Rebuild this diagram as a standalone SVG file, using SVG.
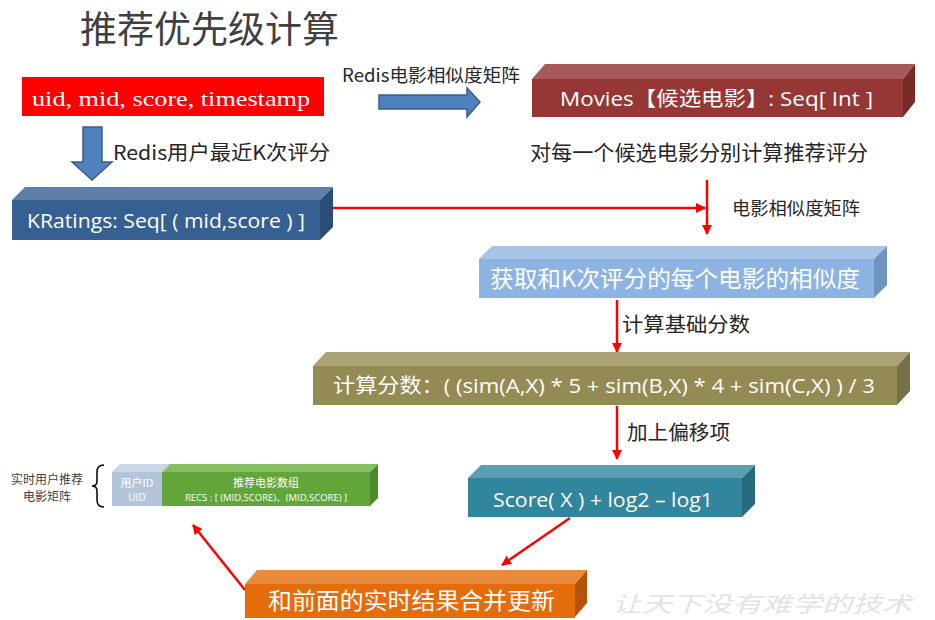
<svg xmlns="http://www.w3.org/2000/svg" width="935" height="620" viewBox="0 0 935 620">
<style>
  .cjk { font-family: "Noto Sans CJK SC", "Noto Sans", sans-serif; }
  .lat { font-family: "Open Sans", "Noto Sans CJK SC", sans-serif; }
  .dark { fill: #262626; }
  .white { fill: #ffffff; }
  .red { stroke: #ff0000; stroke-width: 2.5; fill: none; }
  .blockarrow { fill: #4f81bd; stroke: #385d8a; stroke-width: 1.5; }
</style>
<defs>
  <marker id="ah" viewBox="0 0 10 10" refX="9" refY="5" markerWidth="10" markerHeight="10" markerUnits="userSpaceOnUse" orient="auto">
    <path d="M0,0 L10,5 L0,10 Z" fill="#ff0000"/>
  </marker>
</defs>
<rect width="935" height="620" fill="#ffffff"/>

<text x="80" y="43" class="cjk" font-size="37" fill="#404040">推荐优先级计算</text>

<g id="input">
  <rect x="22" y="77" width="302" height="39" fill="#ff0000"/>
  <text x="32" y="106" font-family="Liberation Serif, serif" font-size="22" class="white" textLength="278" lengthAdjust="spacingAndGlyphs">uid, mid, score, timestamp</text>
</g>

<g id="movies">
  <polygon points="532,79 545,64 915,64 903,79" fill="#a85a58"/>
  <polygon points="903,79 915,64 915,102 903,117" fill="#772a28"/>
  <rect x="532" y="79" width="371" height="38" fill="#953735"/>
  <text x="560" y="106" class="lat white" font-size="20" textLength="313" lengthAdjust="spacingAndGlyphs">Movies【候选电影】: Seq[ Int ]</text>
</g>

<g id="kratings">
  <polygon points="12,200 25,187 333,187 320,200" fill="#5d80a9"/>
  <polygon points="320,200 333,187 333,227 320,240" fill="#2c4d75"/>
  <rect x="12" y="200" width="308" height="40" fill="#376092"/>
  <text x="27" y="228" class="lat white" font-size="20" textLength="278" lengthAdjust="spacingAndGlyphs">KRatings: Seq[ ( mid,score ) ]</text>
</g>

<g id="similarity">
  <polygon points="479,259 492,246 887,246 874,259" fill="#a7c3e8"/>
  <polygon points="874,259 887,246 887,285 874,298" fill="#7193bf"/>
  <rect x="479" y="259" width="395" height="39" fill="#8db3e2"/>
  <text x="490" y="287" class="cjk white" font-size="23" textLength="370" lengthAdjust="spacingAndGlyphs">获取和K次评分的每个电影的相似度</text>
</g>

<g id="base-score">
  <polygon points="313,366 326,352 910,352 897,366" fill="#aba278"/>
  <polygon points="897,366 910,352 910,391 897,405" fill="#797146"/>
  <rect x="313" y="366" width="584" height="39" fill="#948a54"/>
  <text x="333" y="393" class="lat white" font-size="20" textLength="542" lengthAdjust="spacingAndGlyphs">计算分数：( (sim(A,X) * 5 + sim(B,X) * 4 + sim(C,X) ) / 3</text>
</g>

<g id="offset-score">
  <polygon points="468,478 481,465 755,465 742,478" fill="#5b9eb0"/>
  <polygon points="742,478 755,465 755,504 742,517" fill="#266a7c"/>
  <rect x="468" y="478" width="274" height="39" fill="#31859c"/>
  <text x="493" y="507" class="lat white" font-size="20" textLength="220" lengthAdjust="spacingAndGlyphs">Score( X ) + log2 – log1</text>
</g>

<g id="merge">
  <polygon points="245,584 257,570 587,570 575,584" fill="#e98b3d"/>
  <polygon points="575,584 587,570 587,603 575,617" fill="#b4540a"/>
  <rect x="245" y="584" width="330" height="34" fill="#e46c0a"/>
  <text x="268" y="609" class="cjk white" font-size="23" textLength="287" lengthAdjust="spacingAndGlyphs">和前面的实时结果合并更新</text>
</g>

<g id="matrix">
  <text x="47" y="484" class="cjk" font-size="12" fill="#404040" text-anchor="middle">实时用户推荐</text>
  <text x="47" y="501" class="cjk" font-size="12" fill="#404040" text-anchor="middle">电影矩阵</text>
  <path d="M104,465 Q97,465 97,472 L97,481 Q97,486 92,486 Q97,486 97,491 L97,500 Q97,507 104,507" fill="none" stroke="#000000" stroke-width="1.5"/>
  <polygon points="112,472 120,464 170,464 162,472" fill="#cbd6e6"/>
  <rect x="112" y="472" width="50" height="34" fill="#b4c4db"/>
  <polygon points="162,472 170,464 378,464 370,472" fill="#85bf62"/>
  <polygon points="370,472 378,464 378,498 370,506" fill="#4c8a2a"/>
  <rect x="162" y="472" width="208" height="34" fill="#62a53a"/>
  <text x="137" y="487" class="cjk white" font-size="11" text-anchor="middle">用户ID</text>
  <text x="137" y="501" class="lat white" font-size="10" text-anchor="middle">UID</text>
  <text x="266" y="487" class="cjk white" font-size="11" text-anchor="middle">推荐电影数组</text>
  <text x="266" y="501" class="lat white" font-size="9.5" text-anchor="middle">RECS : [ (MID,SCORE)、(MID,SCORE) ]</text>
</g>

<g id="connectors">
  <polygon class="blockarrow" points="83,127 102,127 102,162 112,162 92,180 72,162 83,162"/>
  <polygon class="blockarrow" points="379,95 467,95 467,88 480,102 467,117 467,109 379,109"/>
  <line class="red" x1="333" y1="208" x2="705" y2="208" marker-end="url(#ah)"/>
  <line class="red" x1="707" y1="180" x2="707" y2="234" marker-end="url(#ah)"/>
  <line class="red" x1="617" y1="300" x2="617" y2="352" marker-end="url(#ah)"/>
  <line class="red" x1="617" y1="406" x2="617" y2="459" marker-end="url(#ah)"/>
  <line class="red" x1="570" y1="518" x2="502" y2="565" marker-end="url(#ah)"/>
  <line class="red" x1="245" y1="590" x2="193" y2="525" marker-end="url(#ah)"/>
</g>

<text x="342" y="82" class="cjk dark" font-size="18" textLength="178" lengthAdjust="spacingAndGlyphs">Redis电影相似度矩阵</text>
<text x="113" y="160" class="cjk dark" font-size="20" textLength="217" lengthAdjust="spacingAndGlyphs">Redis用户最近K次评分</text>
<text x="530" y="160" class="cjk dark" font-size="21" textLength="338" lengthAdjust="spacingAndGlyphs">对每一个候选电影分别计算推荐评分</text>
<text x="732" y="215" class="cjk dark" font-size="18" textLength="128" lengthAdjust="spacingAndGlyphs">电影相似度矩阵</text>
<text x="622" y="332" class="cjk dark" font-size="20" textLength="128" lengthAdjust="spacingAndGlyphs">计算基础分数</text>
<text x="627" y="440" class="cjk dark" font-size="20" textLength="103" lengthAdjust="spacingAndGlyphs">加上偏移项</text>

<text x="612" y="612" class="cjk" font-size="22" fill="#e3e3e3" font-style="italic" textLength="300" lengthAdjust="spacingAndGlyphs">让天下没有难学的技术</text>
</svg>
